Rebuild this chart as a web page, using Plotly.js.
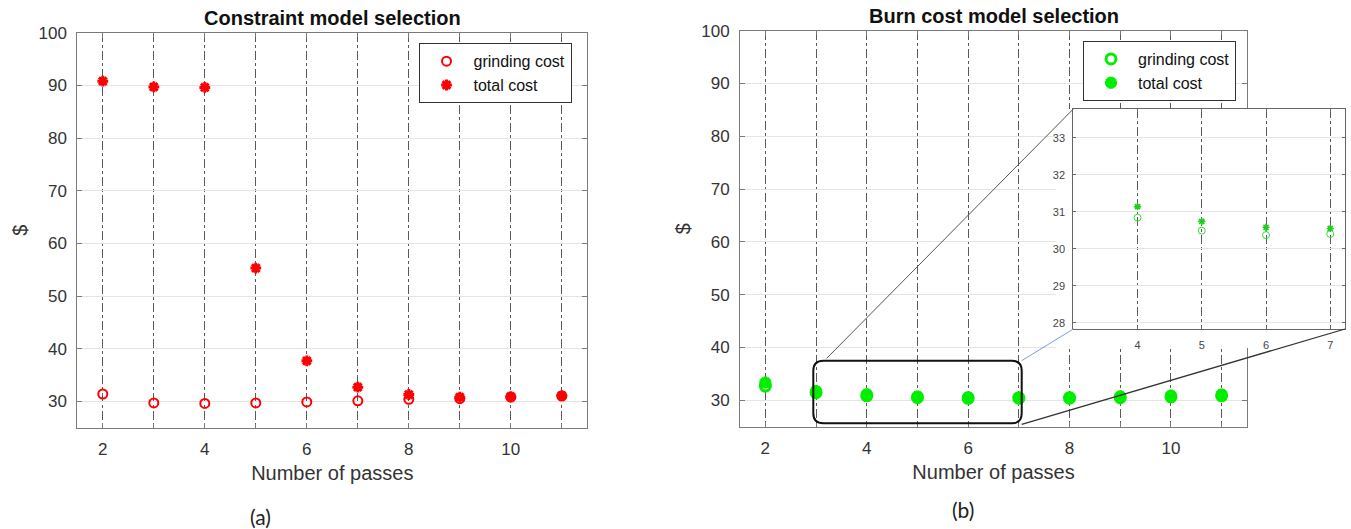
<!DOCTYPE html>
<html><head><meta charset="utf-8">
<script src="https://cdn.plot.ly/plotly-3.0.1.min.js"></script>
<style>html,body{margin:0;padding:0;background:#fff;} #chart{width:1351px;height:529px;}</style>
</head><body><div id="chart"></div>
<script>
// ---- data ----
const passes = [2, 3, 4, 5, 6, 7, 8, 9, 10, 11];
const constraintGrinding = [31.4, 29.7, 29.6, 29.7, 29.9, 30.1, 30.4, 30.5, 30.8, 31.0];
const constraintTotal    = [90.8, 89.7, 89.6, 55.3, 37.7, 32.7, 31.3, 30.8, 30.9, 31.1];
const burnGrinding = [32.7, 31.45, 30.84, 30.49, 30.37, 30.40, 30.4, 30.5, 30.65, 30.85];
const burnTotal    = [33.35, 31.75, 31.14, 30.74, 30.58, 30.55, 30.6, 30.75, 30.9, 31.1];
const seriesNames = ['grinding cost', 'total cost'];
const panelTitles = ['Constraint model selection', 'Burn cost model selection'];
const panelLabels = ['(a)', '(b)'];
const xTitle = 'Number of passes';
const yTitle = '$';
// zoomed passes 4..7
const zoomPasses = passes.slice(2, 6);
const zoomGrinding = burnGrinding.slice(2, 6);
const zoomTotal = burnTotal.slice(2, 6);

// ---- geometry helpers (pixels -> paper) ----
const W = 1351, H = 529;
const px = v => v / W;
const py = v => 1 - v / H;
const dom = (a, b) => [a / W, b / W];
const domY = (top, bottom) => [1 - bottom / H, 1 - top / H];

const FONT = 'Liberation Sans, Arial, sans-serif';
const TXT = '#333333';
const FRAME = '#7a7a7a';
const VGRID = '#5a5a5a';
const HGRID = '#e4e4e4';
const RED = '#ff0000';
const GREEN = '#00ee00';

function mainX(domain, anchor) {
  return {
    domain: domain, anchor: anchor, range: [1.5, 11.5],
    tickmode: 'linear', tick0: 2, dtick: 2,
    showgrid: true, gridcolor: VGRID, griddash: 'dashdot', gridwidth: 1,
    minor: {dtick: 1, showgrid: true, gridcolor: VGRID, griddash: 'dashdot', gridwidth: 1,
            ticks: 'inside', ticklen: 4, tickcolor: FRAME},
    showline: true, linecolor: FRAME, linewidth: 1, mirror: 'ticks',
    ticks: 'inside', ticklen: 5, tickcolor: FRAME,
    zeroline: false,
    tickfont: {family: FONT, size: 17, color: TXT},
    ticklabelstandoff: 6,
    title: {text: xTitle, font: {family: FONT, size: 20, color: TXT}, standoff: 7}
  };
}
function mainY(domain, anchor) {
  return {
    domain: domain, anchor: anchor, range: [25, 100],
    tickmode: 'linear', tick0: 0, dtick: 10,
    showgrid: true, gridcolor: HGRID, gridwidth: 1,
    showline: true, linecolor: FRAME, linewidth: 1, mirror: 'ticks',
    ticks: 'inside', ticklen: 5, tickcolor: FRAME,
    zeroline: false,
    tickfont: {family: FONT, size: 17, color: TXT},
    ticklabelstandoff: 6,
    title: {text: yTitle, font: {family: FONT, size: 20, color: TXT}, standoff: 5}
  };
}

const traces = [
  {type: 'scatter', mode: 'markers', x: passes, y: constraintGrinding, name: seriesNames[0],
   xaxis: 'x', yaxis: 'y', legend: 'legend',
   marker: {symbol: 'circle-open', size: 9, color: RED, line: {width: 2, color: RED}}},
  {type: 'scatter', mode: 'markers', x: passes, y: constraintTotal, name: seriesNames[1],
   xaxis: 'x', yaxis: 'y', legend: 'legend',
   marker: {symbol: 'asterisk-open', size: 9, color: RED, line: {width: 3, color: RED}}},
  {type: 'scatter', mode: 'markers', x: passes, y: burnGrinding, name: seriesNames[0],
   xaxis: 'x2', yaxis: 'y2', legend: 'legend2',
   marker: {symbol: 'circle-open', size: 10, color: GREEN, line: {width: 3, color: GREEN}}},
  {type: 'scatter', mode: 'markers', x: passes, y: burnTotal, name: seriesNames[1],
   xaxis: 'x2', yaxis: 'y2', legend: 'legend2',
   marker: {symbol: 'asterisk-open', size: 10, color: GREEN, line: {width: 4, color: GREEN}}},
  // white cover behind the inset (empty subplot, background only)
  {type: 'scatter', mode: 'markers', x: [], y: [], xaxis: 'x3', yaxis: 'y3',
   showlegend: false, hoverinfo: 'skip'},
  // inset
  {type: 'scatter', mode: 'markers', x: zoomPasses, y: zoomGrinding, name: seriesNames[0],
   xaxis: 'x4', yaxis: 'y4', showlegend: false,
   marker: {symbol: 'circle-open', size: 7, color: '#33dd33', line: {width: 1, color: '#33dd33'}}},
  {type: 'scatter', mode: 'markers', x: zoomPasses, y: zoomTotal, name: seriesNames[1],
   xaxis: 'x4', yaxis: 'y4', showlegend: false,
   marker: {symbol: 'asterisk-open', size: 6, color: '#22cc22', line: {width: 1.6, color: '#22cc22'}}}
];

// rounded rectangle (pixels)
const rr = {l: 813.3, r: 1021.7, t: 360.7, b: 423.3, rad: 10};
function roundedRectPath(o) {
  const k = o.rad;
  const P = (x, y) => px(x) + ',' + py(y);
  return 'M ' + P(o.l + k, o.t) + ' L ' + P(o.r - k, o.t) +
    ' Q ' + P(o.r, o.t) + ' ' + P(o.r, o.t + k) +
    ' L ' + P(o.r, o.b - k) + ' Q ' + P(o.r, o.b) + ' ' + P(o.r - k, o.b) +
    ' L ' + P(o.l + k, o.b) + ' Q ' + P(o.l, o.b) + ' ' + P(o.l, o.b - k) +
    ' L ' + P(o.l, o.t + k) + ' Q ' + P(o.l, o.t) + ' ' + P(o.l + k, o.t) + ' Z';
}
const inset = {l: 1073.3, r: 1345, t: 109, b: 329};

const shapes = [
  {type: 'path', xref: 'paper', yref: 'paper', layer: 'above', path: roundedRectPath(rr),
   line: {color: '#111', width: 2}},
  {type: 'line', xref: 'paper', yref: 'paper', layer: 'above',
   x0: px(826.7), y0: py(358.3), x1: px(inset.l), y1: py(inset.t), line: {color: '#555', width: 1}},
  {type: 'line', xref: 'paper', yref: 'paper', layer: 'above',
   x0: px(rr.r), y0: py(rr.t), x1: px(inset.l), y1: py(inset.b), line: {color: '#7d9be0', width: 1}},
  {type: 'line', xref: 'paper', yref: 'paper', layer: 'above',
   x0: px(rr.r), y0: py(rr.b + 1), x1: px(inset.r), y1: py(inset.b), line: {color: '#333', width: 1.3}}
];

const annotations = [
  {text: '<b>' + panelTitles[0] + '</b>', xref: 'paper', yref: 'paper', x: px(332), y: py(18),
   showarrow: false, xanchor: 'center', yanchor: 'middle', font: {family: FONT, size: 20, color: '#111'}},
  {text: '<b>' + panelTitles[1] + '</b>', xref: 'paper', yref: 'paper', x: px(993.5), y: py(16),
   showarrow: false, xanchor: 'center', yanchor: 'middle', font: {family: FONT, size: 20, color: '#111'}},
  {text: panelLabels[0], xref: 'paper', yref: 'paper', x: px(260), y: py(516),
   showarrow: false, xanchor: 'center', yanchor: 'middle', font: {family: 'Lato, Open Sans, sans-serif', size: 21, color: '#222'}},
  {text: panelLabels[1], xref: 'paper', yref: 'paper', x: px(962.5), y: py(509),
   showarrow: false, xanchor: 'center', yanchor: 'middle', font: {family: 'Lato, Open Sans, sans-serif', size: 21, color: '#222'}}
];

const legendStyle = (x, y) => ({
  x: px(x), y: py(y), xref: 'paper', yref: 'paper', xanchor: 'left', yanchor: 'top',
  bgcolor: '#ffffff', bordercolor: '#333', borderwidth: 1,
  font: {family: FONT, size: 16, color: '#111'}, itemwidth: 44, tracegroupgap: 0
});

const layout = {
  width: W, height: H,
  margin: {l: 0, r: 0, t: 0, b: 0, pad: 0},
  paper_bgcolor: '#ffffff', plot_bgcolor: '#ffffff',
  showlegend: true,
  legend: legendStyle(418.5, 43.3),
  legend2: legendStyle(1083, 41),
  xaxis: mainX(dom(77.3, 587.3), 'y'),
  yaxis: mainY(domY(32.7, 427.7), 'x'),
  xaxis2: mainX(dom(740, 1247), 'y2'),
  yaxis2: mainY(domY(30.7, 426.7), 'x2'),
  xaxis3: {domain: dom(1056, 1351), anchor: 'y3', range: [0, 1], visible: false, showgrid: false, zeroline: false},
  yaxis3: {domain: domY(109, 348), anchor: 'x3', range: [0, 1], visible: false, showgrid: false, zeroline: false},
  xaxis4: {
    domain: dom(inset.l, inset.r), anchor: 'y4', range: [3.0, 7.23],
    tickmode: 'array', tickvals: zoomPasses,
    showgrid: true, gridcolor: VGRID, griddash: 'dashdot', gridwidth: 1,
    showline: true, linecolor: '#666', linewidth: 1, mirror: 'ticks',
    ticks: 'inside', ticklen: 3, tickcolor: '#666', zeroline: false,
    tickfont: {family: FONT, size: 11, color: '#444'}, ticklabelstandoff: 6
  },
  yaxis4: {
    domain: domY(inset.t, inset.b), anchor: 'x4', range: [27.83, 33.78],
    tickmode: 'linear', tick0: 28, dtick: 1,
    showgrid: true, gridcolor: HGRID, gridwidth: 1,
    showline: true, linecolor: '#666', linewidth: 1, mirror: 'ticks',
    ticks: 'inside', ticklen: 3, tickcolor: '#666', zeroline: false,
    tickfont: {family: FONT, size: 11, color: '#444'}, ticklabelstandoff: 5
  },
  shapes: shapes,
  annotations: annotations
};

Plotly.newPlot('chart', traces, layout, {displayModeBar: false, staticPlot: true});
</script>
</body></html>
